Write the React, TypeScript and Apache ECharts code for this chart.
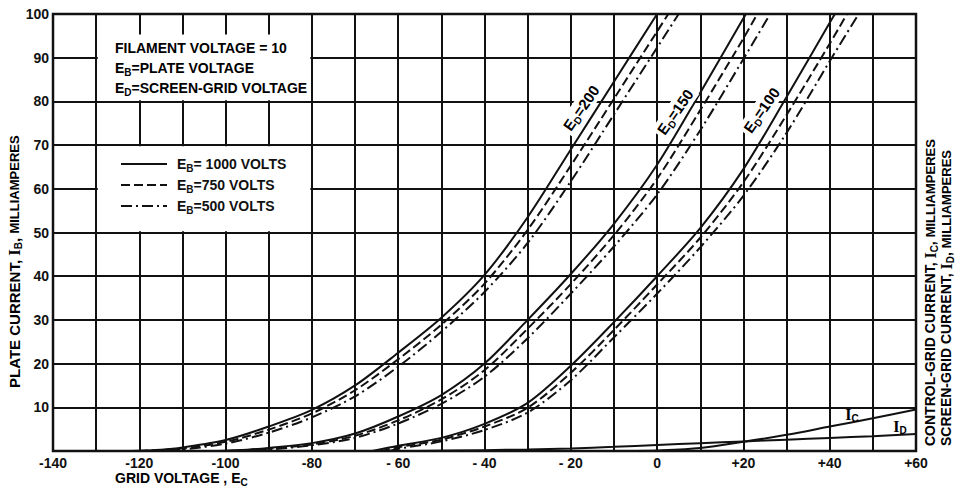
import React, { useEffect, useRef } from 'react';
import * as echarts from 'echarts';

// ---------- data (grid voltage Ec [V], current [mA]) ----------
const ed200_1000 = [[-122, 0], [-115, 0.3], [-110, 0.8], [-100, 2.5], [-90, 5.6], [-80, 9.4], [-70, 15], [-60, 22.5], [-50, 30.5], [-40, 40.3], [-30, 53.5], [-20, 69], [-10, 84.5], [0, 100]];
const ed200_750 = [[-120, 0], [-110, 0.6], [-100, 2.1], [-90, 4.9], [-80, 8.6], [-70, 13.9], [-60, 21], [-50, 28.9], [-40, 38.3], [-30, 50.6], [-20, 65.3], [-10, 80.6], [0, 96], [2.6, 100]];
const ed200_500 = [[-118, 0], [-110, 0.35], [-100, 1.7], [-90, 4.2], [-80, 7.7], [-70, 12.5], [-60, 19.3], [-50, 27.3], [-40, 36.4], [-30, 47.6], [-20, 61.7], [-10, 77], [0, 92.3], [5, 100]];

const ed150_1000 = [[-102, 0], [-95, 0.3], [-90, 0.7], [-80, 1.8], [-70, 4], [-60, 7.9], [-50, 12.8], [-40, 20], [-30, 30], [-20, 40.5], [-10, 52], [0, 65.5], [10, 82], [20, 99], [20.6, 100]];
const ed150_750 = [[-100, 0], [-90, 0.55], [-80, 1.5], [-70, 3.5], [-60, 7], [-50, 11.8], [-40, 18.5], [-30, 28], [-20, 38.2], [-10, 49.4], [0, 62.3], [10, 78], [20, 94.4], [23.2, 100]];
const ed150_500 = [[-98, 0], [-90, 0.35], [-80, 1.3], [-70, 3], [-60, 6.3], [-50, 10.8], [-40, 17], [-30, 25.8], [-20, 36], [-10, 46.8], [0, 58.7], [10, 73.4], [20, 89.7], [26.2, 100]];

const ed100_1000 = [[-66, 0], [-60, 1.2], [-50, 3], [-40, 6.2], [-30, 11], [-20, 19.5], [-10, 29.5], [0, 40], [10, 51], [20, 64.5], [30, 81], [40, 98], [41.2, 100]];
const ed100_750 = [[-64, 0], [-60, 0.85], [-50, 2.6], [-40, 5.6], [-30, 9.9], [-20, 17.9], [-10, 27.7], [0, 38.1], [10, 48.8], [20, 61.5], [30, 76.9], [40, 93.2], [44, 100]];
const ed100_500 = [[-62, 0], [-60, 0.5], [-50, 2.2], [-40, 4.8], [-30, 8.8], [-20, 16.2], [-10, 26], [0, 36], [10, 46.6], [20, 58.4], [30, 72.8], [40, 89.2], [46.7, 100]];

const icCurrent = [[-5, 0], [0, 0.1], [10, 0.7], [20, 2.1], [30, 3.7], [40, 5.6], [50, 7.5], [60, 9.5]];
const idCurrent = [[-56, 0], [-40, 0.2], [-30, 0.35], [-20, 0.6], [-10, 0.95], [0, 1.4], [10, 1.8], [20, 2.2], [30, 2.6], [40, 3.0], [50, 3.4], [60, 3.9]];

const xTickLabels: Record<string, string> = {
  '-140': '-140', '-120': '-120', '-100': '-100', '-80': '-80', '-60': '- 60',
  '-40': '- 40', '-20': '- 20', '0': '0', '20': '+20', '40': '+40', '60': '+60',
};
const yTickLabels = ['', '10', '20', '30', '40', '50', '60', '70', '80', '90', '100'];

const legendNames = ['EB1000', 'EB750', 'EB500'];
const legendTexts: Record<string, string> = {
  EB1000: '{m|E}{s|B}{m|= 1000 VOLTS}',
  EB750: '{m|E}{s|B}{m|=750 VOLTS}',
  EB500: '{m|E}{s|B}{m|=500 VOLTS}',
};
const edValues = ['200', '150', '100'];

// ---------- styles ----------
const INK = '#111';
const SANS = '"Liberation Sans", Arial, sans-serif';
const SERIF = '"Liberation Serif", "DejaVu Serif", serif';
const DASH = [9, 4];
const DASHDOT = [11, 4, 2, 4];

const rich = (main: number, sub: number, small: number) => ({
  m: { fontFamily: SANS, fontWeight: 'bold', fontSize: main, color: INK, lineHeight: main + 4 },
  t: { fontFamily: SANS, fontWeight: 'bold', fontSize: small, color: INK, lineHeight: main + 4 },
  i: { fontFamily: SERIF, fontWeight: 'bold', fontSize: main + 2, color: INK, lineHeight: main + 4 },
  s: { fontFamily: SANS, fontWeight: 'bold', fontSize: sub, color: INK, lineHeight: sub, verticalAlign: 'bottom' },
});

function curve(name: string, data: number[][], type: any) {
  return {
    type: 'line',
    name,
    data,
    showSymbol: false,
    symbol: 'none',
    smooth: 0.3,
    silent: true,
    color: INK,
    lineStyle: { color: INK, width: 2, type },
    z: 3,
  };
}

export default function App() {
  const ref = useRef<HTMLDivElement>(null);

  useEffect(() => {
    const chart = echarts.init(ref.current!, null, { renderer: 'svg' });
    const option: any = {
      animation: false,
      backgroundColor: '#fff',
      textStyle: { fontFamily: SANS },
      grid: { left: 53, right: 39, top: 14, bottom: 40, show: true, borderColor: INK, borderWidth: 2.5, backgroundColor: 'transparent' },
      xAxis: {
        type: 'value', min: -140, max: 60, interval: 10,
        axisLine: { show: false }, axisTick: { show: false },
        splitLine: { show: true, lineStyle: { color: INK, width: 2 } },
        axisLabel: {
          margin: 5, color: INK, fontFamily: SANS, fontWeight: 'bold', fontSize: 14,
          showMinLabel: true, showMaxLabel: true,
          formatter: (v: number) => xTickLabels[String(v)] ?? '',
        },
      },
      yAxis: {
        type: 'value', min: 0, max: 100, interval: 10,
        axisLine: { show: false }, axisTick: { show: false },
        splitLine: { show: true, lineStyle: { color: INK, width: 2 } },
        axisLabel: {
          margin: 4, color: INK, fontFamily: SANS, fontWeight: 'bold', fontSize: 14,
          formatter: (v: number) => yTickLabels[Math.round(v / 10)] ?? '',
        },
      },
      legend: {
        show: true, orient: 'vertical', left: 115, top: 152,
        itemWidth: 46, itemHeight: 14, itemGap: 5,
        selectedMode: false,
        itemStyle: { opacity: 0 },
        data: legendNames,
        formatter: (n: string) => legendTexts[n],
        textStyle: { rich: rich(14, 10, 12), padding: [0, 0, 0, 5] },
      },
      series: [
        curve('EB1000', ed200_1000, 'solid'),
        curve('EB750', ed200_750, DASH),
        curve('EB500', ed200_500, DASHDOT),
        curve('EB1000', ed150_1000, 'solid'),
        curve('EB750', ed150_750, DASH),
        curve('EB500', ed150_500, DASHDOT),
        curve('EB1000', ed100_1000, 'solid'),
        curve('EB750', ed100_750, DASH),
        curve('EB500', ed100_500, DASHDOT),
        curve('IC', icCurrent, 'solid'),
        curve('ID', idCurrent, 'solid'),
      ],
    };
    chart.setOption(option);

    const px = (x: number, y: number) => chart.convertToPixel({ gridIndex: 0 }, [x, y]) as number[];
    const box = (x0: number, y0: number, x1: number, y1: number) => {
      const a = px(x0, y0);
      const b = px(x1, y1);
      return {
        type: 'rect', z: 1, silent: true,
        shape: { x: a[0] + 1.6, y: a[1] + 1.2, width: b[0] - a[0] - 3.2, height: b[1] - a[1] - 2.4 },
        style: { fill: '#fff' },
      };
    };
    const edAnchors = [px(-17.6, 78.5), px(4.2, 77.6), px(24.2, 78)];
    const R = rich(14, 10, 13);
    const R2 = rich(15, 10, 13);
    const graphics: any[] = [
      box(-130, 95.6, -80, 80),
      box(-130, 70, -80, 50),
      { type: 'text', z: 10, x: 115, y: 48, style: { text: '{m|FILAMENT VOLTAGE = 10}', rich: R, verticalAlign: 'middle' } },
      { type: 'text', z: 10, x: 115, y: 68, style: { text: '{m|E}{s|B}{m|=PLATE VOLTAGE}', rich: R, verticalAlign: 'middle' } },
      { type: 'text', z: 10, x: 115, y: 88, style: { text: '{m|E}{s|D}{m|=SCREEN-GRID VOLTAGE}', rich: R, verticalAlign: 'middle' } },
      ...edValues.map((v, k) => ({
        type: 'text', z: 10, x: edAnchors[k][0], y: edAnchors[k][1], rotation: 0.96,
        style: {
          text: `{m|E}{s|D}{m|=${v}}`, rich: R2, align: 'center', verticalAlign: 'middle',
          backgroundColor: '#fff', padding: [0, 3, 0, 3],
        },
      })),
      { type: 'text', z: 10, x: 852, y: 414, style: { text: '{i|I}{s|C}', rich: R, align: 'center', verticalAlign: 'middle' } },
      { type: 'text', z: 10, x: 900, y: 426, style: { text: '{i|I}{s|D}', rich: R, align: 'center', verticalAlign: 'middle' } },
      { type: 'text', z: 10, x: 115, y: 478, style: { text: '{m|GRID VOLTAGE , E}{s|C}', rich: R, verticalAlign: 'middle' } },
      {
        type: 'text', z: 10, x: 14, y: 388, rotation: Math.PI / 2,
        style: { text: '{m|PLATE CURRENT, }{i|I}{s|B}{m|, }{t|MILLIAMPERES}', rich: rich(15, 10, 13), verticalAlign: 'middle' },
      },
      {
        type: 'text', z: 10, x: 930, y: 446, rotation: Math.PI / 2,
        style: { text: '{m|CONTROL-GRID CURRENT, }{i|I}{s|C}{m|, }{t|MILLIAMPERES}', rich: rich(14, 10, 13), verticalAlign: 'middle' },
      },
      {
        type: 'text', z: 10, x: 946, y: 446, rotation: Math.PI / 2,
        style: { text: '{m|SCREEN-GRID CURRENT, }{i|I}{s|D}{m|, }{t|MILLIAMPERES}', rich: rich(14, 10, 13), verticalAlign: 'middle' },
      },
    ];
    chart.setOption({ graphic: graphics });

    return () => chart.dispose();
  }, []);

  return <div ref={ref} style={{ position: 'fixed', left: 0, top: 0, width: 955, height: 491, background: '#fff' }} />;
}
